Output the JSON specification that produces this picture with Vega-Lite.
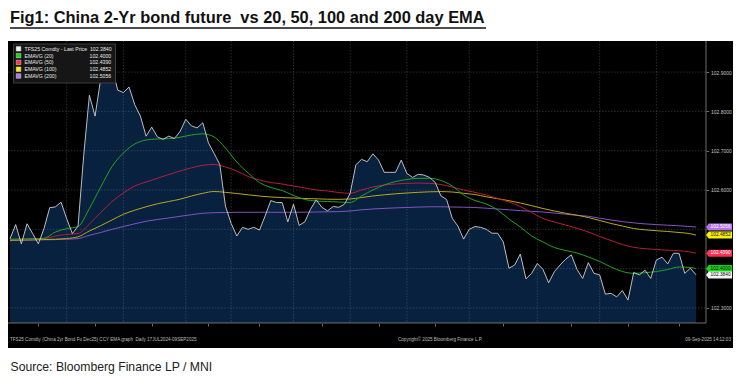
{
"$schema": "https://vega.github.io/schema/vega-lite/v6.json",
"width": 725, "height": 307,
"autosize": {"type": "none"},
"padding": {"left": 8, "top": 41, "right": 9, "bottom": 33},
"background": "white",
"config": {"view": {"fill": "#000000", "stroke": null}, "font": "Liberation Sans"},
"title": {"text": "Fig1: China 2-Yr bond future \u00a0vs 20, 50, 100 and 200 day EMA", "anchor": "start", "frame": "group", "font": "Liberation Sans", "fontSize": 16.4, "fontWeight": "bold", "color": "#111111", "offset": 0.5, "dx": 2},
"datasets": {
"bond": [
{"date":"2025-03-17","day":0,"price":102.476,"ema20":102.4746,"ema50":102.4746,"ema100":102.4720,"ema200":102.4720},
{"date":"2025-03-18","day":1,"price":102.512},
{"date":"2025-03-19","day":2,"price":102.463,"ema20":102.4753,"ema50":102.4748,"ema100":102.4728,"ema200":102.4723},
{"date":"2025-03-20","day":3,"price":102.514},
{"date":"2025-03-21","day":4,"price":102.489,"ema20":102.4761,"ema50":102.4753,"ema100":102.4733,"ema200":102.4728},
{"date":"2025-03-24","day":5,"price":102.463},
{"date":"2025-03-25","day":6,"price":102.502,"ema20":102.4771,"ema50":102.4761,"ema100":102.4740,"ema200":102.4733},
{"date":"2025-03-26","day":7,"price":102.555},
{"date":"2025-03-27","day":8,"price":102.557,"ema20":102.4931,"ema50":102.4830,"ema100":102.4748,"ema200":102.4738},
{"date":"2025-03-28","day":9,"price":102.569},
{"date":"2025-03-31","day":10,"price":102.527,"ema20":102.5015,"ema50":102.4868,"ema100":102.4766,"ema200":102.4748},
{"date":"2025-04-01","day":11,"price":102.489},
{"date":"2025-04-02","day":12,"price":102.508,"ema20":102.5071,"ema50":102.4893,"ema100":102.4809,"ema200":102.4763},
{"date":"2025-04-03","day":13,"price":102.688},
{"date":"2025-04-07","day":14,"price":102.841,"ema20":102.5529,"ema50":102.5135,"ema100":102.4957,"ema200":102.4847},
{"date":"2025-04-08","day":15,"price":102.788},
{"date":"2025-04-09","day":16,"price":102.883,"ema20":102.6076,"ema50":102.5427,"ema100":102.5092,"ema200":102.4919},
{"date":"2025-04-10","day":17,"price":102.909},
{"date":"2025-04-11","day":18,"price":102.912,"ema20":102.6598,"ema50":102.5707,"ema100":102.5237,"ema200":102.5000},
{"date":"2025-04-14","day":19,"price":102.854},
{"date":"2025-04-15","day":20,"price":102.848,"ema20":102.6941,"ema50":102.5924,"ema100":102.5382,"ema200":102.5071},
{"date":"2025-04-16","day":21,"price":102.862},
{"date":"2025-04-17","day":22,"price":102.817,"ema20":102.7170,"ema50":102.6102,"ema100":102.5486,"ema200":102.5140},
{"date":"2025-04-18","day":23,"price":102.788},
{"date":"2025-04-21","day":24,"price":102.737,"ema20":102.7272,"ema50":102.6204,"ema100":102.5573,"ema200":102.5204},
{"date":"2025-04-22","day":25,"price":102.760},
{"date":"2025-04-23","day":26,"price":102.735,"ema20":102.7298,"ema50":102.6298,"ema100":102.5649,"ema200":102.5249},
{"date":"2025-04-24","day":27,"price":102.729},
{"date":"2025-04-25","day":28,"price":102.737,"ema20":102.7305,"ema50":102.6394,"ema100":102.5707,"ema200":102.5288},
{"date":"2025-04-28","day":29,"price":102.731},
{"date":"2025-04-29","day":30,"price":102.749,"ema20":102.7343,"ema50":102.6483,"ema100":102.5766,"ema200":102.5331},
{"date":"2025-04-30","day":31,"price":102.780},
{"date":"2025-05-06","day":32,"price":102.763,"ema20":102.7399,"ema50":102.6565,"ema100":102.5847,"ema200":102.5372},
{"date":"2025-05-07","day":33,"price":102.758},
{"date":"2025-05-08","day":34,"price":102.771,"ema20":102.7430,"ema50":102.6628,"ema100":102.5916,"ema200":102.5407},
{"date":"2025-05-09","day":35,"price":102.720},
{"date":"2025-05-12","day":36,"price":102.693,"ema20":102.7349,"ema50":102.6649,"ema100":102.5962,"ema200":102.5422},
{"date":"2025-05-13","day":37,"price":102.665},
{"date":"2025-05-14","day":38,"price":102.559,"ema20":102.7069,"ema50":102.6585,"ema100":102.5941,"ema200":102.5427},
{"date":"2025-05-15","day":39,"price":102.515},
{"date":"2025-05-16","day":40,"price":102.483,"ema20":102.6712,"ema50":102.6483,"ema100":102.5911,"ema200":102.5433},
{"date":"2025-05-19","day":41,"price":102.505},
{"date":"2025-05-20","day":42,"price":102.500,"ema20":102.6433,"ema50":102.6343,"ema100":102.5878,"ema200":102.5433},
{"date":"2025-05-21","day":43,"price":102.505},
{"date":"2025-05-22","day":44,"price":102.498,"ema20":102.6191,"ema50":102.6254,"ema100":102.5847,"ema200":102.5433},
{"date":"2025-05-23","day":45,"price":102.534},
{"date":"2025-05-26","day":46,"price":102.573,"ema20":102.6064,"ema50":102.6191,"ema100":102.5822,"ema200":102.5433},
{"date":"2025-05-27","day":47,"price":102.568},
{"date":"2025-05-28","day":48,"price":102.568,"ema20":102.5987,"ema50":102.6153,"ema100":102.5807,"ema200":102.5433},
{"date":"2025-05-29","day":49,"price":102.519},
{"date":"2025-05-30","day":50,"price":102.564,"ema20":102.5860,"ema50":102.6102,"ema100":102.5796,"ema200":102.5433},
{"date":"2025-06-03","day":51,"price":102.510},
{"date":"2025-06-04","day":52,"price":102.519,"ema20":102.5758,"ema50":102.6051,"ema100":102.5784,"ema200":102.5435},
{"date":"2025-06-05","day":53,"price":102.551},
{"date":"2025-06-06","day":54,"price":102.575,"ema20":102.5720,"ema50":102.6000,"ema100":102.5776,"ema200":102.5440},
{"date":"2025-06-09","day":55,"price":102.556},
{"date":"2025-06-10","day":56,"price":102.547,"ema20":102.5707,"ema50":102.5975,"ema100":102.5766,"ema200":102.5445},
{"date":"2025-06-11","day":57,"price":102.558},
{"date":"2025-06-12","day":58,"price":102.556,"ema20":102.5695,"ema50":102.5936,"ema100":102.5763,"ema200":102.5450},
{"date":"2025-06-13","day":59,"price":102.564},
{"date":"2025-06-16","day":60,"price":102.592,"ema20":102.5682,"ema50":102.5916,"ema100":102.5771,"ema200":102.5466},
{"date":"2025-06-17","day":61,"price":102.664},
{"date":"2025-06-18","day":62,"price":102.678,"ema20":102.5847,"ema50":102.6000,"ema100":102.5809,"ema200":102.5496},
{"date":"2025-06-19","day":63,"price":102.672},
{"date":"2025-06-20","day":64,"price":102.692,"ema20":102.6000,"ema50":102.6076,"ema100":102.5847,"ema200":102.5517},
{"date":"2025-06-23","day":65,"price":102.676},
{"date":"2025-06-24","day":66,"price":102.645,"ema20":102.6127,"ema50":102.6127,"ema100":102.5878,"ema200":102.5532},
{"date":"2025-06-25","day":67,"price":102.645},
{"date":"2025-06-26","day":68,"price":102.645,"ema20":102.6216,"ema50":102.6153,"ema100":102.5903,"ema200":102.5545},
{"date":"2025-06-27","day":69,"price":102.676},
{"date":"2025-06-30","day":70,"price":102.642,"ema20":102.6267,"ema50":102.6170,"ema100":102.5924,"ema200":102.5555},
{"date":"2025-07-01","day":71,"price":102.632},
{"date":"2025-07-02","day":72,"price":102.640,"ema20":102.6298,"ema50":102.6178,"ema100":102.5941,"ema200":102.5565},
{"date":"2025-07-03","day":73,"price":102.638},
{"date":"2025-07-04","day":74,"price":102.632,"ema20":102.6298,"ema50":102.6170,"ema100":102.5954,"ema200":102.5573},
{"date":"2025-07-07","day":75,"price":102.619},
{"date":"2025-07-08","day":76,"price":102.585,"ema20":102.6242,"ema50":102.6140,"ema100":102.5959,"ema200":102.5573},
{"date":"2025-07-09","day":77,"price":102.576},
{"date":"2025-07-10","day":78,"price":102.528,"ema20":102.6102,"ema50":102.6076,"ema100":102.5949,"ema200":102.5567},
{"date":"2025-07-11","day":79,"price":102.508},
{"date":"2025-07-14","day":80,"price":102.475,"ema20":102.5873,"ema50":102.6000,"ema100":102.5916,"ema200":102.5562},
{"date":"2025-07-15","day":81,"price":102.500},
{"date":"2025-07-16","day":82,"price":102.507,"ema20":102.5733,"ema50":102.5941,"ema100":102.5885,"ema200":102.5555},
{"date":"2025-07-17","day":83,"price":102.505},
{"date":"2025-07-18","day":84,"price":102.500,"ema20":102.5644,"ema50":102.5873,"ema100":102.5827,"ema200":102.5537},
{"date":"2025-07-21","day":85,"price":102.490},
{"date":"2025-07-22","day":86,"price":102.490,"ema20":102.5491,"ema50":102.5784,"ema100":102.5779,"ema200":102.5517},
{"date":"2025-07-23","day":87,"price":102.468},
{"date":"2025-07-24","day":88,"price":102.401,"ema20":102.5262,"ema50":102.5695,"ema100":102.5728,"ema200":102.5496},
{"date":"2025-07-25","day":89,"price":102.409},
{"date":"2025-07-28","day":90,"price":102.437,"ema20":102.5059,"ema50":102.5580,"ema100":102.5669,"ema200":102.5476},
{"date":"2025-07-29","day":91,"price":102.374},
{"date":"2025-07-30","day":92,"price":102.388,"ema20":102.4830,"ema50":102.5427,"ema100":102.5601,"ema200":102.5458},
{"date":"2025-07-31","day":93,"price":102.413},
{"date":"2025-08-01","day":94,"price":102.398,"ema20":102.4677,"ema50":102.5275,"ema100":102.5529,"ema200":102.5440},
{"date":"2025-08-04","day":95,"price":102.364},
{"date":"2025-08-05","day":96,"price":102.392,"ema20":102.4537,"ema50":102.5186,"ema100":102.5466,"ema200":102.5415},
{"date":"2025-08-06","day":97,"price":102.409},
{"date":"2025-08-07","day":98,"price":102.424,"ema20":102.4461,"ema50":102.5109,"ema100":102.5407,"ema200":102.5384},
{"date":"2025-08-08","day":99,"price":102.435},
{"date":"2025-08-11","day":100,"price":102.398,"ema20":102.4397,"ema50":102.5025,"ema100":102.5359,"ema200":102.5356},
{"date":"2025-08-12","day":101,"price":102.375},
{"date":"2025-08-13","day":102,"price":102.415,"ema20":102.4295,"ema50":102.4931,"ema100":102.5300,"ema200":102.5331},
{"date":"2025-08-14","day":103,"price":102.388},
{"date":"2025-08-15","day":104,"price":102.384,"ema20":102.4181,"ema50":102.4817,"ema100":102.5224,"ema200":102.5282},
{"date":"2025-08-18","day":105,"price":102.335},
{"date":"2025-08-19","day":106,"price":102.337,"ema20":102.4041,"ema50":102.4715,"ema100":102.5148,"ema200":102.5237},
{"date":"2025-08-20","day":107,"price":102.328},
{"date":"2025-08-21","day":108,"price":102.344,"ema20":102.3926,"ema50":102.4613,"ema100":102.5084,"ema200":102.5196},
{"date":"2025-08-22","day":109,"price":102.320},
{"date":"2025-08-25","day":110,"price":102.390,"ema20":102.3880,"ema50":102.4542,"ema100":102.5020,"ema200":102.5163},
{"date":"2025-08-26","day":111,"price":102.384},
{"date":"2025-08-27","day":112,"price":102.396,"ema20":102.3896,"ema50":102.4506,"ema100":102.4987,"ema200":102.5137},
{"date":"2025-08-28","day":113,"price":102.375},
{"date":"2025-08-29","day":114,"price":102.422,"ema20":102.3926,"ema50":102.4486,"ema100":102.4964,"ema200":102.5120},
{"date":"2025-09-01","day":115,"price":102.429},
{"date":"2025-09-02","day":116,"price":102.412,"ema20":102.3977,"ema50":102.4468,"ema100":102.4944,"ema200":102.5104},
{"date":"2025-09-03","day":117,"price":102.439},
{"date":"2025-09-04","day":118,"price":102.439,"ema20":102.4041,"ema50":102.4455,"ema100":102.4919,"ema200":102.5089},
{"date":"2025-09-05","day":119,"price":102.388},
{"date":"2025-09-08","day":120,"price":102.401,"ema20":102.4028,"ema50":102.4422,"ema100":102.4888,"ema200":102.5071},
{"date":"2025-09-09","day":121,"price":102.384,"ema20":102.4000,"ema50":102.4390,"ema100":102.4852,"ema200":102.5056}
],
"ygrid": [{"v":102.3},{"v":102.4},{"v":102.5},{"v":102.6},{"v":102.7},{"v":102.8},{"v":102.9}],
"xgrid": [{"day":10},{"day":20},{"day":31},{"day":39},{"day":50},{"day":60},{"day":70},{"day":81},{"day":93},{"day":104},{"day":114}],
"one": [{}]
},
"layer": [
{
"data": {"name": "bond"},
"mark": {"type": "area", "color": "#07213f", "opacity": 1},
"encoding": {
"x": {"field": "day", "type": "quantitative", "scale": {"domain": [-0.353, 127.513], "nice": false, "zero": false},
"axis": {"orient": "bottom", "offset": -24.5, "values": [5,10,15,20,25,31,35,39,44,50,55,60,65,70,75,81,87,93,99,104,109,114,118],
"labelExpr": "datum.value == 60 ? ['Jun 16', '2025'] : (indexof([10,20,31,39,50,70,81,93,104,114], datum.value) >= 0 ? ['Mar 31','Apr 15','Apr 30','May 15','May 30','Jun 30','Jul 15','Jul 31','Aug 15','Aug 29'][indexof([10,20,31,39,50,70,81,93,104,114], datum.value)] : '')",
"domain": false, "grid": false, "ticks": true, "tickSize": 2.5, "tickColor": "#8a8a8a", "tickWidth": 0.8,
"labelFont": "Liberation Sans", "labelFontSize": 5, "labelColor": "#c4c4c4", "labelPadding": 0.5, "labelLineHeight": 6, "labelFlush": false, "labelOverlap": false, "labelBaseline": "top", "labelBound": false,
"title": "Source: Bloomberg Finance LP / MNI", "titleFont": "Liberation Sans", "titleFontSize": 12.2, "titleFontWeight": "normal", "titleColor": "#222222", "titleAnchor": "start", "titleAlign": "left", "titleBaseline": "alphabetic", "titleX": 2, "titleY": 47}},
"y": {"field": "price", "type": "quantitative", "scale": {"domain": [102.19796, 102.97913], "nice": false, "zero": false},
"axis": {"orient": "right", "offset": -27, "values": [102.3,102.35,102.4,102.45,102.5,102.55,102.6,102.65,102.7,102.75,102.8,102.85,102.9,102.95], "format": ".4f",
"labelExpr": "indexof(['102.3000','102.6000','102.7000','102.8000','102.9000'], datum.label) >= 0 ? datum.label : ''",
"domain": false, "grid": false, "tickSize": 2.5, "tickColor": "#8a8a8a", "tickWidth": 0.8, "labelFont": "Liberation Sans", "labelFontSize": 5, "labelColor": "#c4c4c4", "labelPadding": 2, "title": null, "labelFlush": false, "labelOverlap": false, "labelBaseline": "middle", "labelBound": false}},
"y2": {"datum": 102.2616}
}
},
{
"data": {"name": "ygrid"},
"mark": {"type": "rule", "color": "#7f8a99", "opacity": 0.45, "strokeDash": [1.5, 1.5], "strokeWidth": 0.7},
"encoding": {
"y": {"field": "v", "type": "quantitative"},
"x": {"datum": -0.353, "type": "quantitative"},
"x2": {"datum": 122.75}
}
},
{
"data": {"name": "xgrid"},
"mark": {"type": "rule", "color": "#7f8a99", "opacity": 0.45, "strokeDash": [1.5, 1.5], "strokeWidth": 0.7},
"encoding": {
"x": {"field": "day", "type": "quantitative"},
"y": {"datum": 102.97913, "type": "quantitative"},
"y2": {"datum": 102.2616}
}
},
{
"data": {"name": "bond"},
"transform": [{"fold": ["ema200", "ema100", "ema50", "ema20"], "as": ["series", "value"]}, {"filter": "isValid(datum.value)"}],
"mark": {"type": "line", "strokeWidth": 1, "interpolate": "monotone"},
"encoding": {
"x": {"field": "day", "type": "quantitative"},
"y": {"field": "value", "type": "quantitative"},
"stroke": {"field": "series", "type": "nominal", "scale": {"domain": ["ema20", "ema50", "ema100", "ema200"], "range": ["#22a322", "#b51e3e", "#b8a81e", "#8452c4"]}, "legend": null}
}
},
{
"data": {"name": "bond"},
"mark": {"type": "line", "color": "#d0d0d0", "strokeWidth": 0.9},
"encoding": {
"x": {"field": "day", "type": "quantitative"},
"y": {"field": "price", "type": "quantitative"}
}
},
{
"data": {"name": "one"},
"mark": {"type": "rule", "color": "#8a8a8a", "strokeWidth": 0.8},
"encoding": {
"x": {"datum": 122.75, "type": "quantitative"},
"y": {"datum": 102.97913, "type": "quantitative"},
"y2": {"datum": 102.2616}
}
},
{
"data": {"name": "one"},
"mark": {"type": "rule", "color": "#8a8a8a", "strokeWidth": 0.8},
"encoding": {
"x": {"datum": -0.353, "type": "quantitative"},
"x2": {"datum": 122.75},
"y": {"datum": 102.2616, "type": "quantitative"}
}
},
{
"data": {"name": "bond"},
"transform": [{"filter": "datum.day == 121"}, {"fold": ["ema200", "ema100", "ema50", "ema20", "price"], "as": ["series", "value"]}],
"mark": {"type": "point", "shape": "M-1,0L-0.8,-0.27L1,-0.27L1,0.27L-0.8,0.27Z", "size": 676, "filled": true, "opacity": 1, "strokeWidth": 0, "xOffset": 23},
"encoding": {
"x": {"field": "day", "type": "quantitative"},
"y": {"field": "value", "type": "quantitative"},
"fill": {"field": "series", "type": "nominal", "scale": {"domain": ["price", "ema20", "ema50", "ema100", "ema200"], "range": ["#f2f2f2", "#12d612", "#ff2f52", "#f8f000", "#b574ee"]},
"legend": {"title": null, "orient": "none", "legendX": 5, "legendY": 2.5, "fillColor": "#161616", "strokeColor": "#3c3c3c", "padding": 2.5,
"symbolType": "square", "symbolSize": 22, "symbolStrokeColor": "#d8d8d8", "symbolStrokeWidth": 0.5, "symbolOpacity": 1, "clipHeight": 5.5,
"labelFont": "Liberation Sans", "labelFontSize": 5.2, "labelColor": "#e8e8e8", "labelOffset": 3, "rowPadding": 0.8, "labelLimit": 300,
"labelExpr": "datum.value == 'price' ? 'TFS25 Comdty - Last Price\u00a0\u00a0102.3840' : datum.value == 'ema20' ? 'EMAVG (20)\u00a0\u00a0\u00a0\u00a0\u00a0\u00a0\u00a0\u00a0\u00a0\u00a0\u00a0\u00a0\u00a0\u00a0\u00a0\u00a0\u00a0\u00a0\u00a0\u00a0\u00a0\u00a0\u00a0\u00a0\u00a0102.4000' : datum.value == 'ema50' ? 'EMAVG (50)\u00a0\u00a0\u00a0\u00a0\u00a0\u00a0\u00a0\u00a0\u00a0\u00a0\u00a0\u00a0\u00a0\u00a0\u00a0\u00a0\u00a0\u00a0\u00a0\u00a0\u00a0\u00a0\u00a0\u00a0\u00a0102.4390' : datum.value == 'ema100' ? 'EMAVG (100)\u00a0\u00a0\u00a0\u00a0\u00a0\u00a0\u00a0\u00a0\u00a0\u00a0\u00a0\u00a0\u00a0\u00a0\u00a0\u00a0\u00a0\u00a0\u00a0\u00a0\u00a0\u00a0\u00a0102.4852' : 'EMAVG (200)\u00a0\u00a0\u00a0\u00a0\u00a0\u00a0\u00a0\u00a0\u00a0\u00a0\u00a0\u00a0\u00a0\u00a0\u00a0\u00a0\u00a0\u00a0\u00a0\u00a0\u00a0\u00a0\u00a0102.5056'"}}
}
},
{
"data": {"name": "bond"},
"transform": [{"filter": "datum.day == 121"}, {"fold": ["ema200", "ema100", "ema50", "ema20", "price"], "as": ["series", "value"]}],
"mark": {"type": "text", "dx": 24.5, "fontSize": 4.8, "font": "Liberation Sans", "align": "center", "baseline": "middle"},
"encoding": {
"x": {"field": "day", "type": "quantitative"},
"y": {"field": "value", "type": "quantitative"},
"text": {"field": "value", "type": "quantitative", "format": ".4f"},
"color": {"condition": {"test": "datum.series == 'ema50' || datum.series == 'ema200'", "value": "#ffffff"}, "value": "#111111"}
}
},
{
"data": {"name": "one"},
"mark": {"type": "rule", "color": "#111111", "strokeWidth": 1.3},
"encoding": {
"x": {"datum": 0, "type": "quantitative"},
"x2": {"datum": 83.95},
"y": {"datum": 103.0122, "type": "quantitative"}
}
},
{
"data": {"name": "one"},
"mark": {"type": "text", "align": "left", "baseline": "middle", "fontSize": 4.6, "font": "Liberation Sans", "color": "#bdbdbd"},
"encoding": {
"x": {"datum": 0, "type": "quantitative"},
"y": {"datum": 102.2183, "type": "quantitative"},
"text": {"value": "TFS25 Comdty (China 2yr Bond Fu Dec25) CCY EMA graph \u00a0Daily 17JUL2024-09SEP2025"}
}
},
{
"data": {"name": "one"},
"mark": {"type": "text", "align": "left", "baseline": "middle", "fontSize": 4.6, "font": "Liberation Sans", "color": "#bdbdbd"},
"encoding": {
"x": {"datum": 68.43, "type": "quantitative"},
"y": {"datum": 102.2183, "type": "quantitative"},
"text": {"value": "Copyright\u00a9 2025 Bloomberg Finance L.P."}
}
},
{
"data": {"name": "one"},
"mark": {"type": "text", "align": "right", "baseline": "middle", "fontSize": 4.6, "font": "Liberation Sans", "color": "#bdbdbd"},
"encoding": {
"x": {"datum": 127.16, "type": "quantitative"},
"y": {"datum": 102.2183, "type": "quantitative"},
"text": {"value": "09-Sep-2025 14:12:03"}
}
}
]
}
